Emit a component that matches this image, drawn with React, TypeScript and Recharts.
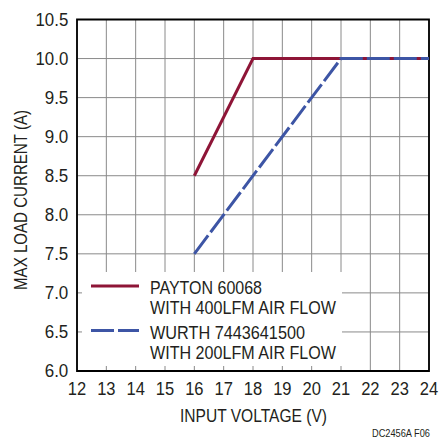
import React from 'react';
import {
  LineChart,
  Line,
  XAxis,
  YAxis,
  CartesianGrid,
  ReferenceArea,
  Legend,
  Customized,
} from 'recharts';

// ---- data ----
const paytonVoltage = [16, 18, 24];
const paytonCurrent = [8.5, 10, 10];
const wurthVoltage = [16, 21, 24];
const wurthCurrent = [7.5, 10, 10];

const xTicks = [12, 13, 14, 15, 16, 17, 18, 19, 20, 21, 22, 23, 24];
const yTicks = [6, 6.5, 7, 7.5, 8, 8.5, 9, 9.5, 10, 10.5];

const paytonLabel = ['PAYTON 60068', 'WITH 400LFM AIR FLOW'];
const wurthLabel = ['WURTH 7443641500', 'WITH 200LFM AIR FLOW'];

const xTitle = 'INPUT VOLTAGE (V)';
const yTitle = 'MAX LOAD CURRENT (A)';
const figureNote = 'DC2456A F06';

const paytonData = paytonVoltage.map((v, i) => ({ v, a: paytonCurrent[i] }));
const wurthData = wurthVoltage.map((v, i) => ({ v, a: wurthCurrent[i] }));

// ---- styles ----
const FONT = "'Liberation Sans', Arial, sans-serif";
const TEXT = '#231f20';
const RED = '#8e1537';
const BLUE = '#3d55a5';
const GRID = '#8a8a8a';

// rendered widths of the condensed texts (px)
const TEXT_WIDTHS: Record<string, number> = {
  'PAYTON 60068': 112,
  'WITH 400LFM AIR FLOW': 186,
  'WURTH 7443641500': 155,
  'WITH 200LFM AIR FLOW': 186,
  'INPUT VOLTAGE (V)': 147,
  'MAX LOAD CURRENT (A)': 180,
  'DC2456A F06': 58,
};

const tickWidth = (s: string) =>
  s.split('').reduce((acc, c) => acc + (c === '.' ? 5.2 : 9.2), 0);

const NText = (p: any) => {
  const { children, size, ...rest } = p;
  const s = String(children);
  const w = TEXT_WIDTHS[s];
  return (
    <text
      {...rest}
      fill={TEXT}
      fontFamily={FONT}
      fontSize={size}
      textLength={w}
      lengthAdjust="spacingAndGlyphs"
    >
      {s}
    </text>
  );
};

const XTick = (props: any) => {
  const s = String(props.payload.value);
  return (
    <text
      x={props.x}
      y={props.y}
      dy="0.71em"
      textAnchor="middle"
      fill={TEXT}
      fontFamily={FONT}
      fontSize={18}
      textLength={tickWidth(s)}
      lengthAdjust="spacingAndGlyphs"
    >
      {s}
    </text>
  );
};

const YTick = (props: any) => {
  const s = Number(props.payload.value).toFixed(1);
  return (
    <text
      x={props.x}
      y={props.y}
      dy="0.36em"
      textAnchor="end"
      fill={TEXT}
      fontFamily={FONT}
      fontSize={18}
      textLength={tickWidth(s)}
      lengthAdjust="spacingAndGlyphs"
    >
      {s}
    </text>
  );
};

const LegendContent = (props: any) => {
  const payload = props.payload || [];
  return (
    <svg width={300} height={94} style={{ display: 'block', overflow: 'visible' }}>
      <rect x={0} y={0} width={260} height={94} fill="#fff" />
      {payload.map((entry: any, i: number) => {
        const oy = i * 44.4;
        const lines = String(entry.value).split('|');
        const dash = entry.payload && entry.payload.strokeDasharray;
        return (
          <g key={i}>
            <line
              x1={9}
              x2={57}
              y1={oy + 14}
              y2={oy + 14}
              stroke={entry.color}
              strokeWidth={3}
              strokeDasharray={dash}
            />
            {lines.map((t: string, j: number) => (
              <NText key={j} x={68} y={oy + 22.3 + j * 20} size={18.5}>
                {t}
              </NText>
            ))}
          </g>
        );
      })}
    </svg>
  );
};

export default function App() {
  return (
    <div style={{ position: 'absolute', left: 0, top: 0, width: 440, height: 441, background: '#fff' }}>
      <LineChart
        width={440}
        height={441}
        margin={{ top: 19.5, right: 11, bottom: 0, left: 0 }}
      >
        <CartesianGrid stroke={GRID} strokeWidth={1} />
        <XAxis
          dataKey="v"
          type="number"
          domain={[12, 24]}
          ticks={xTicks}
          allowDataOverflow
          height={70}
          axisLine={false}
          tickLine={false}
          tickSize={0}
          tickMargin={11}
          tick={XTick}
          label={{
            content: () => (
              <NText x={253.5} y={421.7} textAnchor="middle" size={18.5}>
                {xTitle}
              </NText>
            ),
          }}
        />
        <YAxis
          dataKey="a"
          type="number"
          domain={[6, 10.5]}
          ticks={yTicks}
          allowDataOverflow
          width={77}
          axisLine={false}
          tickLine={false}
          tickSize={0}
          tickMargin={8.7}
          tick={YTick}
          label={{
            content: () => (
              <NText
                x={20}
                y={200}
                transform="rotate(-90, 20, 200)"
                textAnchor="middle"
                dy="0.36em"
                size={18.5}
              >
                {yTitle}
              </NText>
            ),
          }}
        />
        <ReferenceArea
          x1={12}
          x2={24}
          y1={6}
          y2={10.5}
          fill="none"
          fillOpacity={0}
          stroke="#000"
          strokeWidth={1.8}
        />
        <Line
          data={paytonData}
          dataKey="a"
          name={paytonLabel.join('|')}
          type="linear"
          stroke={RED}
          strokeWidth={3}
          dot={false}
          activeDot={false}
          isAnimationActive={false}
        />
        <Line
          data={wurthData}
          dataKey="a"
          name={wurthLabel.join('|')}
          type="linear"
          stroke={BLUE}
          strokeWidth={3}
          strokeDasharray="23 4"
          dot={false}
          activeDot={false}
          isAnimationActive={false}
        />
        <Legend
          layout="horizontal"
          verticalAlign="middle"
          align="center"
          content={LegendContent}
          wrapperStyle={{
            left: 82,
            top: 272,
            width: 300,
            height: 94,
          }}
        />
        <Customized
          component={() => (
            <NText x={430} y={437} textAnchor="end" size={11}>
              {figureNote}
            </NText>
          )}
        />
      </LineChart>
    </div>
  );
}
